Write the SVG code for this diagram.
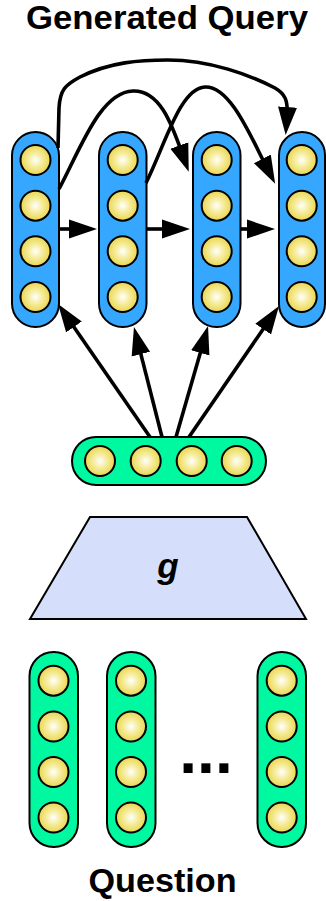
<svg xmlns="http://www.w3.org/2000/svg" width="326" height="901" viewBox="0 0 326 901">
<style>
.title{font-family:"Liberation Sans",Arial,sans-serif;font-weight:bold;font-size:33px;fill:#000;text-anchor:middle}
.blue{fill:#36A7FF;stroke:#000;stroke-width:2}
.green{fill:#00F9A0;stroke:#000;stroke-width:2}
.unit{fill:url(#yg);stroke:#000;stroke-width:2}
.conn{fill:none;stroke:#000;stroke-width:3.6;marker-end:url(#ah)}
</style>
<defs>
<radialGradient id="yg" cx="0.5" cy="0.5" r="0.5">
<stop offset="0" stop-color="#FFFFFF"/>
<stop offset="0.45" stop-color="#F6EDA0"/>
<stop offset="1" stop-color="#EAD64E"/>
</radialGradient>
<marker id="ah" markerUnits="userSpaceOnUse" markerWidth="28" markerHeight="20" viewBox="0 0 28 20" refX="8" refY="10" orient="auto">
<path d="M0,0.5 L28,10 L0,19.5 z" fill="#000"/>
</marker>
</defs>

<text class="title" x="167" y="29" textLength="282" lengthAdjust="spacingAndGlyphs">Generated Query</text>

<g id="q1"><rect class="blue" x="12" y="132" width="47" height="195" rx="23.5"/>
<circle class="unit" cx="35.5" cy="160" r="15"/><circle class="unit" cx="35.5" cy="205.7" r="15"/><circle class="unit" cx="35.5" cy="251.3" r="15"/><circle class="unit" cx="35.5" cy="297" r="15"/></g>
<g id="q2"><rect class="blue" x="99" y="132" width="47.5" height="195" rx="23.5"/>
<circle class="unit" cx="122.7" cy="160" r="15"/><circle class="unit" cx="122.7" cy="205.7" r="15"/><circle class="unit" cx="122.7" cy="251.3" r="15"/><circle class="unit" cx="122.7" cy="297" r="15"/></g>
<g id="q3"><rect class="blue" x="193" y="132" width="47.5" height="195" rx="23.5"/>
<circle class="unit" cx="216.7" cy="160" r="15"/><circle class="unit" cx="216.7" cy="205.7" r="15"/><circle class="unit" cx="216.7" cy="251.3" r="15"/><circle class="unit" cx="216.7" cy="297" r="15"/></g>
<g id="q4"><rect class="blue" x="279" y="132" width="46" height="195" rx="23"/>
<circle class="unit" cx="301.7" cy="160" r="15"/><circle class="unit" cx="301.7" cy="205.7" r="15"/><circle class="unit" cx="301.7" cy="251.3" r="15"/><circle class="unit" cx="301.7" cy="297" r="15"/></g>

<g id="h"><rect class="green" x="72" y="437" width="194" height="48" rx="24"/>
<circle class="unit" cx="100" cy="461" r="15"/><circle class="unit" cx="145.7" cy="461" r="15"/><circle class="unit" cx="191.7" cy="461" r="15"/><circle class="unit" cx="236.7" cy="461" r="15"/></g>

<g id="g">
<polygon points="90,517 247,517 306,619 30,619" fill="#D5DFFC" stroke="#000" stroke-width="2"/>
<text x="168" y="578" font-family="'Liberation Sans',Arial,sans-serif" font-weight="bold" font-style="italic" font-size="35" text-anchor="middle">g</text>
</g>

<g id="w1"><rect class="green" x="29.5" y="652" width="48.5" height="195" rx="24"/>
<circle class="unit" cx="53.5" cy="680.7" r="15"/><circle class="unit" cx="53.5" cy="726.5" r="15"/><circle class="unit" cx="53.5" cy="772" r="15"/><circle class="unit" cx="53.5" cy="817.5" r="15"/></g>
<g id="w2"><rect class="green" x="107" y="652" width="48.5" height="195" rx="24"/>
<circle class="unit" cx="131" cy="680.7" r="15"/><circle class="unit" cx="131" cy="726.5" r="15"/><circle class="unit" cx="131" cy="772" r="15"/><circle class="unit" cx="131" cy="817.5" r="15"/></g>
<g id="wn"><rect class="green" x="257.5" y="652" width="48.5" height="195" rx="24"/>
<circle class="unit" cx="281.7" cy="680.7" r="15"/><circle class="unit" cx="281.7" cy="726.5" r="15"/><circle class="unit" cx="281.7" cy="772" r="15"/><circle class="unit" cx="281.7" cy="817.5" r="15"/></g>

<text x="206" y="772.5" font-family="'Liberation Sans',Arial,sans-serif" font-weight="bold" font-size="64" text-anchor="middle">...</text>

<text class="title" x="162.5" y="892" textLength="148" lengthAdjust="spacingAndGlyphs">Question</text>

<g id="connectors">
<path class="conn" d="M59,229 L77,229"/>
<path class="conn" d="M146.5,229 L170,229"/>
<path class="conn" d="M240.5,229 L255,229"/>
<path class="conn" d="M58,148 L59,108 C60,90 65,85 80,77 C110,62 140,60 168,60 C210,60 250,75 275,88 C285,94 288,100 287,115"/>
<path class="conn" d="M59,189 C80,150 100,92 133,91 C160,90 172,125 182,153"/>
<path class="conn" d="M146,183 C165,145 180,88 205,87 C230,86 250,135 266,166"/>
<path class="conn" d="M150,437 L69.4,320.4"/>
<path class="conn" d="M162,437 L138.9,346.4"/>
<path class="conn" d="M176,437 L202.5,345.2"/>
<path class="conn" d="M189,437 L267.7,322.5"/>
</g>
</svg>
